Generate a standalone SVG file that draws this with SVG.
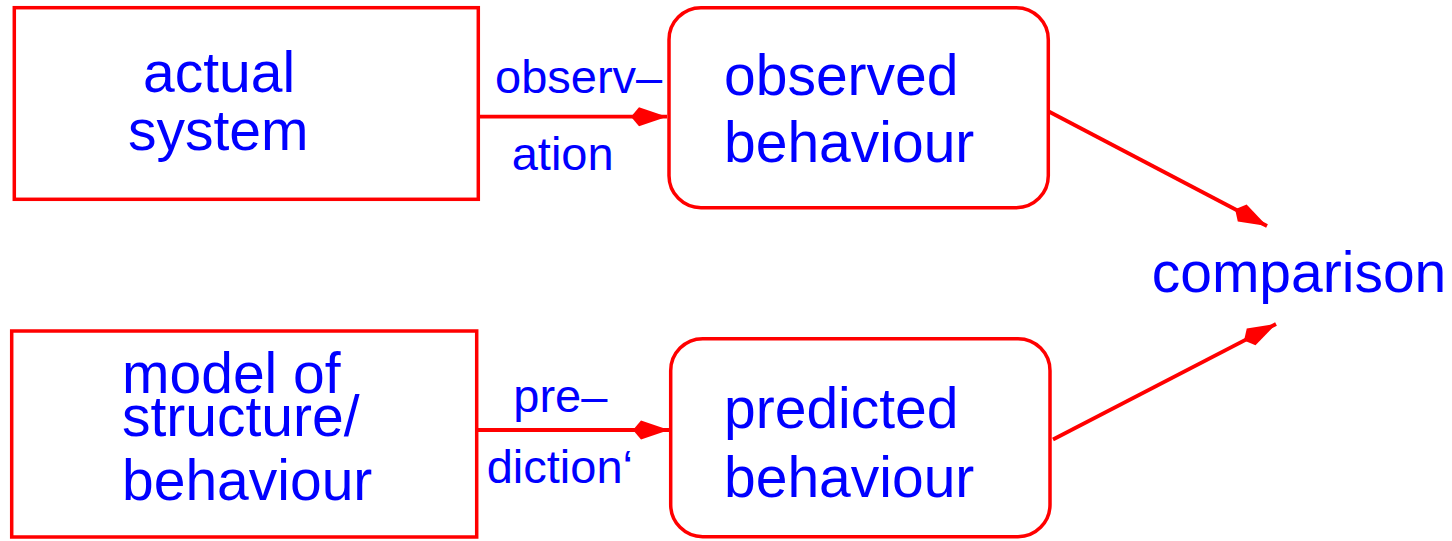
<svg xmlns="http://www.w3.org/2000/svg" width="1452" height="541" viewBox="0 0 1452 541">
<style>
.box{fill:#fff;stroke:#ff0000;stroke-width:3.5}
.t{font-family:"Liberation Sans",Arial,sans-serif;font-size:57px;fill:#0000ff}
.l{font-family:"Liberation Sans",Arial,sans-serif;font-size:47px;fill:#0000ff}
.c{stroke:#ff0000;stroke-width:3.8;fill:none}
</style>
<defs>
<marker id="ah" markerUnits="userSpaceOnUse" viewBox="-37 -11 39 22" refX="0" refY="0" markerWidth="39" markerHeight="22" orient="auto" overflow="visible">
<path d="M0,0 L-28,-9.5 L-36,0 L-28,9.5 Z" fill="#ff0000"/>
</marker>
</defs>
<rect width="1452" height="541" fill="#fff"/>
<g id="connectors">
<line class="c" x1="479" y1="116.7" x2="667" y2="116.7" marker-end="url(#ah)"/>
<line class="c" x1="477" y1="430" x2="669" y2="430" marker-end="url(#ah)"/>
<line class="c" x1="1044" y1="109" x2="1267" y2="226" marker-end="url(#ah)"/>
<line class="c" x1="1053" y1="439.5" x2="1276" y2="324" marker-end="url(#ah)"/>
</g>
<g id="actual-system">
<rect class="box" x="14.3" y="7.7" width="464" height="191.6"/>
<text class="t" x="143" y="91.7">actual</text>
<text class="t" x="128" y="150">system</text>
</g>
<g id="model">
<rect class="box" x="11.7" y="331" width="465" height="206"/>
<text class="t" x="122" y="393">model of</text>
<text class="t" x="122" y="436">structure/</text>
<text class="t" x="122" y="500">behaviour</text>
</g>
<g id="observed-behaviour">
<rect class="box" x="669" y="7.7" width="379.3" height="200" rx="32" ry="32"/>
<text class="t" x="724" y="95">observed</text>
<text class="t" x="724" y="161.7">behaviour</text>
</g>
<g id="predicted-behaviour">
<rect class="box" x="670.7" y="338.7" width="379.3" height="198" rx="32" ry="32"/>
<text class="t" x="724" y="428.3">predicted</text>
<text class="t" x="724" y="496.7">behaviour</text>
</g>
<g id="comparison">
<text class="t" x="1151.7" y="291.7">comparison</text>
</g>
<g id="labels">
<text class="l" x="495" y="93.3">observ–</text>
<text class="l" x="511.7" y="170">ation</text>
<text class="l" x="513.3" y="411.7">pre–</text>
<text class="l" x="486.7" y="483.3">diction‘</text>
</g>
</svg>
